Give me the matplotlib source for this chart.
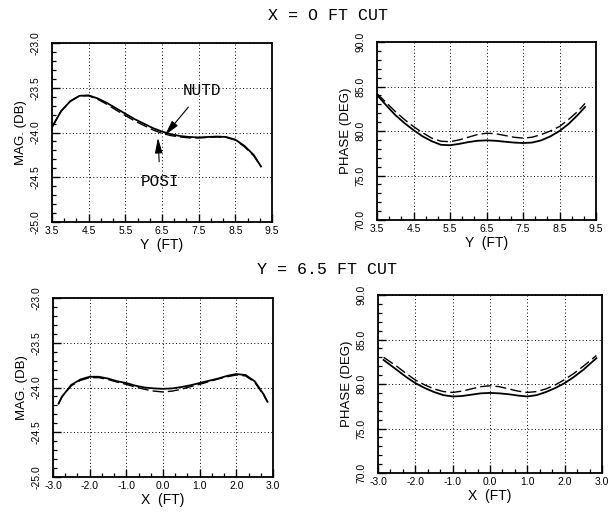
import matplotlib
matplotlib.use("Agg")
import matplotlib.pyplot as plt
from matplotlib.ticker import FixedLocator, AutoMinorLocator, FormatStrFormatter

# ---------------- data ----------------
y_cut_pos = [3.5, 3.75, 4.0, 4.25, 4.5, 4.75, 5.0, 5.25, 5.5, 5.75, 6.0, 6.25,
             6.5, 6.75, 7.0, 7.25, 7.5, 7.75, 8.0, 8.25, 8.5, 8.75, 9.0, 9.2]
mag_y_nutd = [-23.94, -23.76, -23.65, -23.59, -23.585, -23.62, -23.67, -23.73,
              -23.79, -23.85, -23.90, -23.95, -23.99, -24.02, -24.04, -24.05,
              -24.055, -24.05, -24.045, -24.05, -24.08, -24.15, -24.25, -24.38]
mag_y_posi = [-23.94, -23.76, -23.65, -23.59, -23.59, -23.63, -23.685, -23.75,
              -23.81, -23.87, -23.92, -23.97, -24.01, -24.035, -24.05, -24.06,
              -24.06, -24.055, -24.05, -24.055, -24.085, -24.16, -24.26, -24.38]
ph_y_solid = [84.05, 82.9, 81.8, 80.9, 80.1, 79.4, 78.85, 78.45, 78.4, 78.55,
              78.75, 78.9, 78.95, 78.9, 78.8, 78.7, 78.65, 78.7, 78.95, 79.4,
              80.0, 80.8, 81.8, 82.7]
ph_y_dash = [84.2, 83.2, 82.2, 81.3, 80.5, 79.8, 79.2, 78.85, 78.8, 79.0,
             79.3, 79.6, 79.75, 79.7, 79.5, 79.3, 79.2, 79.3, 79.6, 80.0,
             80.5, 81.3, 82.2, 83.1]

x_cut_pos = [-2.85, -2.75, -2.5, -2.25, -2.0, -1.75, -1.5, -1.25, -1.0, -0.75,
             -0.5, -0.25, 0.0, 0.25, 0.5, 0.75, 1.0, 1.25, 1.5, 1.75, 2.0,
             2.25, 2.5, 2.75, 2.85]
mag_x_solid = [-24.18, -24.10, -23.97, -23.91, -23.88, -23.88, -23.90, -23.93,
               -23.95, -23.98, -24.0, -24.01, -24.015, -24.01, -23.995, -23.975,
               -23.95, -23.925, -23.9, -23.87, -23.85, -23.86, -23.93, -24.08,
               -24.16]
mag_x_dash = [-24.18, -24.10, -23.98, -23.92, -23.89, -23.89, -23.91, -23.94,
              -23.965, -23.995, -24.02, -24.04, -24.05, -24.04, -24.02, -23.99,
              -23.965, -23.935, -23.905, -23.88, -23.86, -23.87, -23.94, -24.09,
              -24.16]
ph_x_pos = [-2.85, -2.5, -2.25, -2.0, -1.75, -1.5, -1.25, -1.0, -0.75, -0.5,
            -0.25, 0.0, 0.25, 0.5, 0.75, 1.0, 1.25, 1.5, 1.75, 2.0, 2.25, 2.5,
            2.85]
ph_x_solid = [82.7, 81.6, 80.8, 80.1, 79.55, 79.1, 78.75, 78.6, 78.65, 78.8,
              78.95, 79.0, 78.95, 78.85, 78.7, 78.6, 78.75, 79.1, 79.55, 80.1,
              80.8, 81.6, 82.9]
ph_x_dash = [83.0, 82.0, 81.2, 80.45, 79.9, 79.45, 79.15, 79.05, 79.2, 79.45,
             79.7, 79.8, 79.7, 79.45, 79.2, 79.05, 79.15, 79.45, 79.9, 80.5,
             81.2, 82.0, 83.2]

# tick values
y_ticks = [3.5, 4.5, 5.5, 6.5, 7.5, 8.5, 9.5]
x_ticks = [-3.0, -2.0, -1.0, 0.0, 1.0, 2.0, 3.0]
mag_ticks = [-25.0, -24.5, -24.0, -23.5, -23.0]
phase_ticks = [70.0, 75.0, 80.0, 85.0, 90.0]

titles = ["X = O FT CUT", "Y = 6.5 FT CUT"]
xlabels = ["Y  (FT)", "X  (FT)"]
mag_label = "MAG. (DB)"
phase_label = "PHASE (DEG)"

# ---------------- style ----------------
sans = ['Liberation Sans Narrow', 'Liberation Sans', 'DejaVu Sans']
mono = ['Liberation Mono', 'DejaVu Sans Mono']

fig = plt.figure(figsize=(6.13, 5.12), dpi=100)
fig.patch.set_facecolor('white')

positions = {
    'tl': [52/613, (512-222)/512, 220/613, 179/512],
    'tr': [377/613, (512-220)/512, 219/613, 178/512],
    'bl': [53/613, (512-477)/512, 220/613, 179/512],
    'br': [378/613, (512-473)/512, 224/613, 178/512],
}


def style_axes(ax, xticks, yticks, xlabel, ylabel):
    ax.set_xlim(xticks[0], xticks[-1])
    ax.set_ylim(yticks[0], yticks[-1])
    ax.xaxis.set_major_locator(FixedLocator(xticks))
    ax.xaxis.set_minor_locator(AutoMinorLocator(3))
    ax.yaxis.set_major_locator(FixedLocator(yticks))
    ax.yaxis.set_minor_locator(AutoMinorLocator(5))
    ax.xaxis.set_major_formatter(FormatStrFormatter('%.1f'))
    ax.yaxis.set_major_formatter(FormatStrFormatter('%.1f'))
    ax.tick_params(which='both', direction='in', top=False, right=False,
                   color='black')
    ax.tick_params(which='major', length=6, width=1.0, labelsize=7.5)
    ax.tick_params(axis='x', which='major', pad=3)
    ax.tick_params(axis='y', which='major', pad=8)
    ax.tick_params(which='minor', length=3, width=0.9)
    for lab in ax.get_yticklabels():
        lab.set_rotation(90)
        lab.set_va('center')
        lab.set_family(sans)
    for lab in ax.get_xticklabels():
        lab.set_family(sans)
    ax.grid(True, which='major', linestyle=(0, (1, 2.5)), color='black',
            linewidth=0.7)
    for s in ax.spines.values():
        s.set_linewidth(1.3)
    ax.set_xlabel(xlabel, family=sans, fontsize=10, labelpad=1)
    ax.set_ylabel(ylabel, family=sans, fontsize=9.5, labelpad=3)


solid_kw = dict(color='black', linewidth=1.3, linestyle='-')
dash_kw = dict(color='black', linewidth=1.0, linestyle=(0, (8, 3)))

# top-left
ax = fig.add_axes(positions['tl'])
ax.plot(y_cut_pos, mag_y_nutd, **solid_kw)
ax.plot(y_cut_pos, mag_y_posi, **dash_kw)
style_axes(ax, y_ticks, mag_ticks, xlabels[0], mag_label)
ax.annotate("NUTD", xy=(6.58, -24.03), xytext=(7.6, -23.53),
            ha='center', va='center', family=mono, fontsize=11.5,
            arrowprops=dict(arrowstyle='-|>,head_length=0.8,head_width=0.2',
                            color='black', lw=0.8, shrinkA=6, shrinkB=0))
ax.annotate("POSI", xy=(6.39, -24.06), xytext=(6.45, -24.55),
            ha='center', va='center', family=mono, fontsize=11.5,
            arrowprops=dict(arrowstyle='-|>,head_length=0.8,head_width=0.2',
                            color='black', lw=0.8, shrinkA=7, shrinkB=0))

# top-right
ax = fig.add_axes(positions['tr'])
ax.plot(y_cut_pos, ph_y_solid, **solid_kw)
ax.plot(y_cut_pos, ph_y_dash, **dash_kw)
style_axes(ax, y_ticks, phase_ticks, xlabels[0], phase_label)

# bottom-left
ax = fig.add_axes(positions['bl'])
ax.plot(x_cut_pos, mag_x_solid, **solid_kw)
ax.plot(x_cut_pos, mag_x_dash, **dash_kw)
style_axes(ax, x_ticks, mag_ticks, xlabels[1], mag_label)

# bottom-right
ax = fig.add_axes(positions['br'])
ax.plot(ph_x_pos, ph_x_solid, **solid_kw)
ax.plot(ph_x_pos, ph_x_dash, **dash_kw)
style_axes(ax, x_ticks, phase_ticks, xlabels[1], phase_label)

fig.text(328/613, 1 - 15/512, titles[0], ha='center', va='center',
         family=mono, fontsize=12)
fig.text(327/613, 1 - 270/512, titles[1], ha='center', va='center',
         family=mono, fontsize=12)

fig.savefig("out.png", dpi=100, facecolor='white')
